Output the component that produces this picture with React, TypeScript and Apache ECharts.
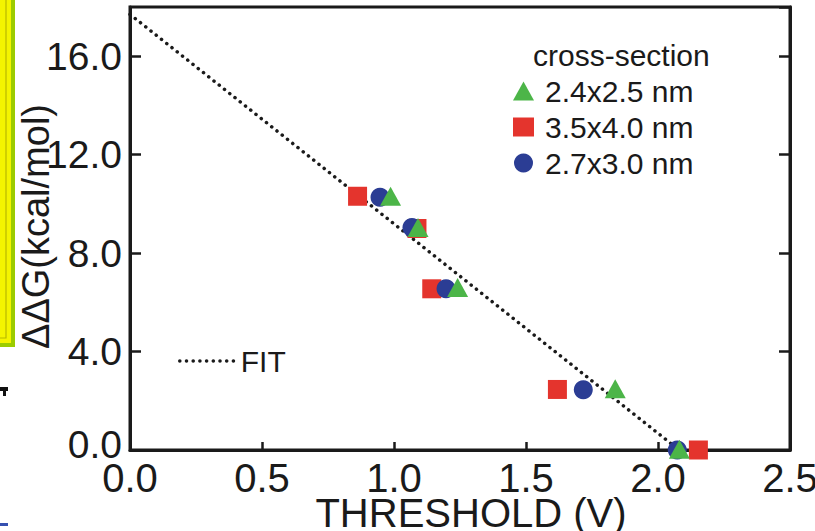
import React, { useEffect, useRef } from "react";
import * as echarts from "echarts";

// ---- data ----
const xTicks = [0, 0.5, 1.0, 1.5, 2.0, 2.5];
const yTicks = [0, 4, 8, 12, 16];

const seriesNames = ["2.4x2.5 nm", "3.5x4.0 nm", "2.7x3.0 nm"];
const legendTitle = "cross-section";
const fitName = "FIT";

// 2.4x2.5 nm (triangles)
const triX = [0.987, 1.091, 1.241, 1.838, 2.081];
const triY = [10.31, 9.04, 6.6, 2.49, 0.03];
// 3.5x4.0 nm (squares)
const sqX = [0.862, 1.087, 1.143, 1.619, 2.153];
const sqY = [10.31, 9.0, 6.55, 2.46, 0];
// 2.7x3.0 nm (circles)
const ciX = [0.947, 1.068, 1.197, 1.717, 2.073];
const ciY = [10.27, 9.04, 6.55, 2.45, 0];
// linear fit end points
const fitX = [0, 2.08];
const fitY = [17.7, 0];

const xAxisName = "THRESHOLD (V)";
const yAxisName = "ΔΔG(kcal/mol)";

const zip = (xs: number[], ys: number[]) => xs.map((x, i) => [x, ys[i]]);

const GREEN = "#4cb548";
const RED = "#e4342d";
const BLUE = "#2b3d94";
const INK = "#1a1a1a";
const FONT = "Liberation Sans";

export default function App() {
  const ref = useRef<HTMLDivElement>(null);
  useEffect(() => {
    if (!ref.current) return;
    const chart = echarts.init(ref.current, undefined, { renderer: "svg" });
    const tickStyle = { color: INK, width: 2.5 };
    chart.setOption({
      animation: false,
      backgroundColor: "#ffffff",
      grid: {
        left: 130,
        right: 25,
        top: 7,
        bottom: 81,
        containLabel: false,
        outerBoundsMode: "none",
        show: true,
        borderColor: INK,
        borderWidth: 3,
        backgroundColor: "transparent",
      },
      xAxis: {
        type: "value",
        min: xTicks[0],
        max: xTicks[xTicks.length - 1],
        interval: 0.5,
        splitLine: { show: false },
        axisLine: { show: true, lineStyle: { color: INK, width: 3 } },
        axisTick: { show: true, inside: true, length: 8, lineStyle: tickStyle },
        axisLabel: {
          color: INK,
          fontFamily: FONT,
          fontSize: 40,
          lineHeight: 32,
          margin: 12,
          formatter: (v: number) => v.toFixed(1),
        },
        name: xAxisName,
        nameLocation: "middle",
        nameGap: 47,
        nameMoveOverlap: false,
        nameTextStyle: {
          color: INK,
          fontFamily: FONT,
          fontSize: 40,
          lineHeight: 32,
          padding: [0, 0, 0, 22],
        },
      },
      yAxis: [
        {
          type: "value",
          min: 0,
          max: 18,
          interval: 4,
          splitLine: { show: false },
          axisLine: { show: true, lineStyle: { color: INK, width: 3 } },
          axisTick: { show: true, inside: true, length: 11, lineStyle: tickStyle },
          axisLabel: {
            color: INK,
            fontFamily: FONT,
            fontSize: 39,
            margin: 8,
            showMaxLabel: false,
            formatter: (v: number) =>
              v === 0 ? "{z|0.0}" : yTicks.includes(v) ? v.toFixed(1) : "",
            rich: {
              z: {
                color: INK,
                fontFamily: FONT,
                fontSize: 39,
                padding: [0, 0, 12, 0],
              },
            },
          },
          name: yAxisName,
          nameLocation: "middle",
          nameGap: 75,
          nameMoveOverlap: false,
          nameRotate: 90,
          nameTextStyle: {
            color: INK,
            fontFamily: FONT,
            fontSize: 38,
            padding: [0, 0, 0, 4],
          },
        },
        {
          type: "value",
          position: "right",
          min: 0,
          max: 18,
          interval: 4,
          splitLine: { show: false },
          axisLine: { show: true, lineStyle: { color: INK, width: 3 } },
          axisTick: { show: true, inside: true, length: 11, lineStyle: tickStyle },
          axisLabel: { show: false },
        },
      ],
      legend: [
        {
          data: [seriesNames[0], seriesNames[1], seriesNames[2]],
          orient: "vertical",
          left: 508,
          top: 71,
          itemWidth: 21,
          itemHeight: 19,
          itemGap: 6,
          selectedMode: false,
          textStyle: {
            color: INK,
            fontFamily: FONT,
            fontSize: 30,
            lineHeight: 30,
            padding: [0, 0, 0, 6],
          },
        },
        {
          data: [fitName],
          left: 173,
          top: 341,
          itemWidth: 56,
          itemHeight: 20,
          selectedMode: false,
          itemStyle: { opacity: 0 },
          lineStyle: { width: 3.5 },
          textStyle: {
            color: INK,
            fontFamily: FONT,
            fontSize: 30,
            lineHeight: 30,
            padding: [0, 0, 0, 0],
          },
        },
      ],
      graphic: [
        {
          type: "text",
          left: 533,
          top: 40,
          style: {
            text: legendTitle,
            fill: INK,
            font: `30px "${FONT}"`,
          },
        },
        // cropped neighbour-figure fragments at the left edge
        { type: "rect", shape: { x: 0, y: 0, width: 15, height: 347 }, style: { fill: "#9ccc00" } },
        { type: "rect", shape: { x: 0, y: 0, width: 11, height: 343 }, style: { fill: "#f4f400" } },
        {
          type: "rect",
          shape: { x: -2, y: -2, width: 8, height: 340 },
          style: { fill: "none", stroke: "#b8b800", lineWidth: 1.2 },
        },
        { type: "rect", shape: { x: 0, y: 387, width: 8, height: 4 }, style: { fill: "#111" } },
        { type: "rect", shape: { x: 3, y: 387, width: 3, height: 9 }, style: { fill: "#111" } },
        { type: "rect", shape: { x: 0, y: 523, width: 8, height: 3 }, style: { fill: "#3550b0" } },
      ],
      series: [
        {
          name: fitName,
          type: "line",
          data: zip(fitX, fitY),
          symbol: "none",
          lineStyle: { color: INK, width: 3.5, type: [0.1, 6.6], cap: "round" },
          itemStyle: { color: INK },
          z: 1,
        },
        {
          name: seriesNames[1],
          type: "scatter",
          data: zip(sqX, sqY),
          symbol: "rect",
          symbolSize: 19,
          itemStyle: { color: RED, opacity: 1 },
          z: 2,
        },
        {
          name: seriesNames[2],
          type: "scatter",
          data: zip(ciX, ciY),
          symbol: "circle",
          symbolSize: 19,
          itemStyle: { color: BLUE, opacity: 1 },
          z: 3,
        },
        {
          name: seriesNames[0],
          type: "scatter",
          data: zip(triX, triY),
          symbol: "triangle",
          symbolSize: [21, 19],
          itemStyle: { color: GREEN, opacity: 1 },
          z: 4,
        },
      ],
    });
    return () => chart.dispose();
  }, []);
  return (
    <div
      ref={ref}
      style={{ position: "fixed", left: 0, top: 0, width: 815, height: 531 }}
    />
  );
}
